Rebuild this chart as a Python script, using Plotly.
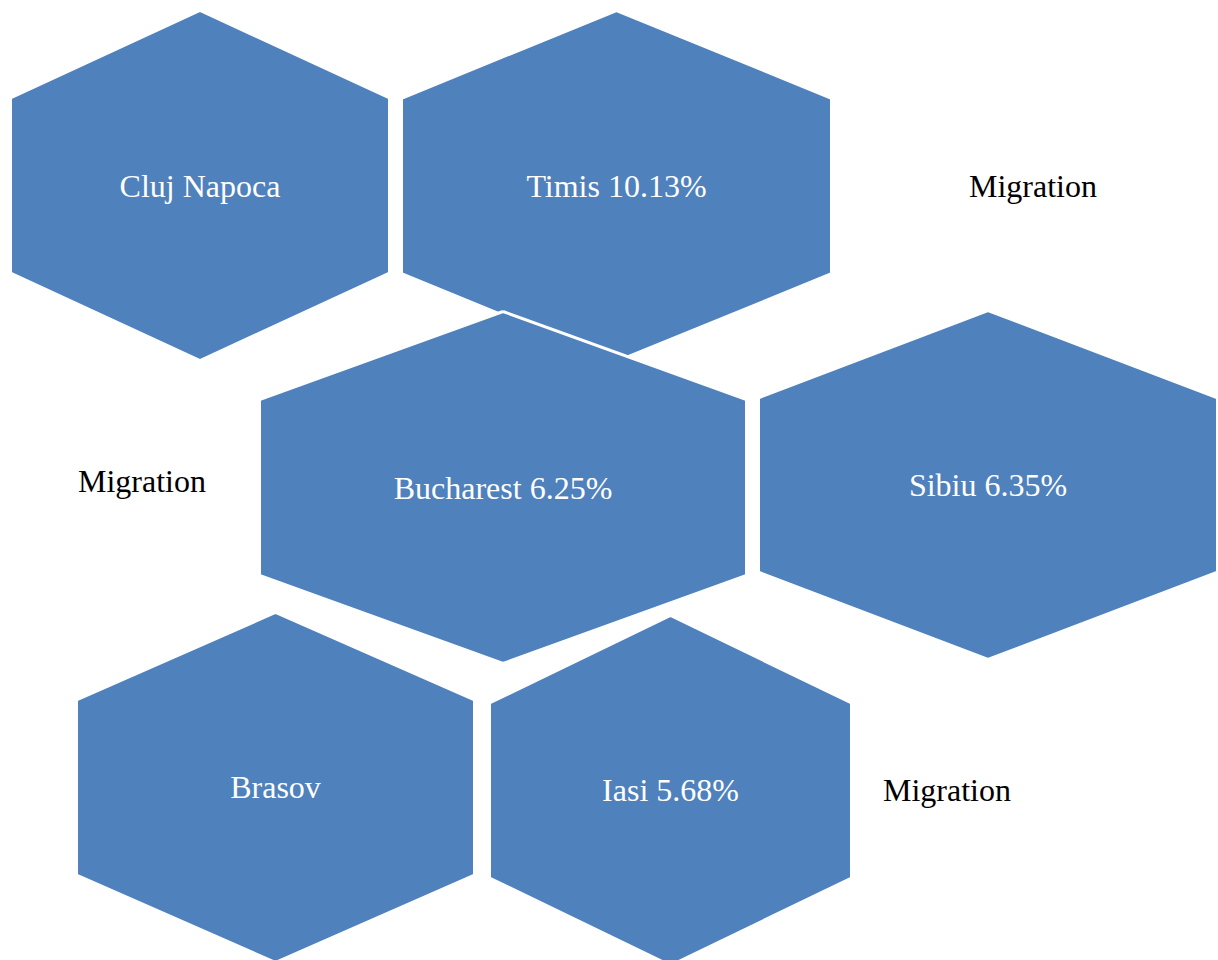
import plotly.graph_objects as go

# Diagram content
labels = ["Cluj Napoca", "Timis 10.13%", "Bucharest 6.25%", "Sibiu 6.35%", "Brasov", "Iasi 5.68%"]
side_labels = ["Migration", "Migration", "Migration"]

# Geometry (pixel layout of the SmartArt-like hexagons)
hex_cx = [200, 616.5, 503, 988, 275.5, 670.5]
hex_cy = [185.5, 186, 487.5, 485, 787.5, 790.5]
hex_w = [379, 430, 487, 459, 398, 362]
hex_h = [350, 351, 352, 349, 350, 350]
label_y = [189, 189, 491, 488, 790, 793]
side_x = [1033, 142, 947]
side_y = [189, 484, 793]

FILL = "#4F81BD"
FONT = "Liberation Serif, Times New Roman, serif"

fig = go.Figure()

for cx, cy, w, h in zip(hex_cx, hex_cy, hex_w, hex_h):
    top, bot = cy - h / 2, cy + h / 2
    l, r = cx - w / 2, cx + w / 2
    q = h * 0.25
    xs = [cx, r, r, cx, l, l, cx]
    ys = [top, top + q, bot - q, bot, bot - q, top + q, top]
    fig.add_trace(go.Scatter(
        x=xs, y=ys, mode="lines", fill="toself", fillcolor=FILL,
        line=dict(color="white", width=3), hoverinfo="skip", showlegend=False))

fig.add_trace(go.Scatter(
    x=hex_cx, y=label_y, mode="text", text=labels,
    textfont=dict(family=FONT, size=32, color="white"),
    hoverinfo="skip", showlegend=False))

fig.add_trace(go.Scatter(
    x=side_x, y=side_y, mode="text", text=side_labels,
    textfont=dict(family=FONT, size=32, color="black"),
    hoverinfo="skip", showlegend=False))

fig.update_layout(
    width=1218, height=960,
    margin=dict(l=0, r=0, t=0, b=0),
    paper_bgcolor="white", plot_bgcolor="white",
    xaxis=dict(range=[0, 1218], visible=False, fixedrange=True),
    yaxis=dict(range=[960, 0], visible=False, fixedrange=True),
)

fig.write_html(
    "out.html",
    config={"displayModeBar": False},
    post_script="document.body.style.margin='0';document.body.style.overflow='hidden';",
)
